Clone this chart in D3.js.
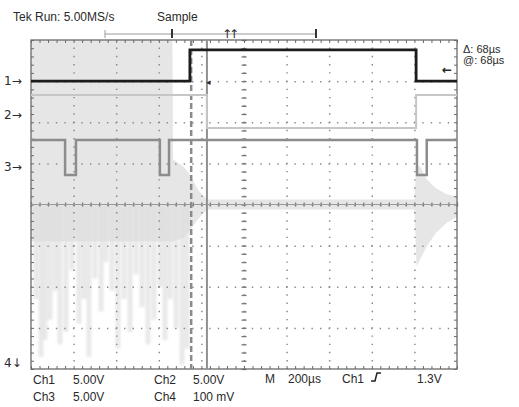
<!DOCTYPE html>
<html>
<head>
<meta charset="utf-8">
<script src="https://cdn.jsdelivr.net/npm/d3@7"></script>
<style>
  body { margin: 0; background: #fff; }
  svg text { font-family: "Liberation Sans", Arial, sans-serif; fill: #2a2a2a; }
  svg text.sym { font-family: "DejaVu Sans", sans-serif; }
</style>
</head>
<body>
<svg id="scope"></svg>
<script>
// time in µs (200µs/div, 10 div), level in divisions from centre
let majorX = d3.range(0, 2001, 200);
let minorX = d3.range(0, 2001, 40);
let majorY = d3.range(-4, 5, 1);
let minorY = d3.range(-4, 4.01, 0.2);

// step traces: [time, level] - level holds until the next point
let ch1 = [[0, 3.0], [746, 3.76], [1808, 3.0], [2000, 3.0]];
let ch2 = [[0, 2.66], [826, 1.86], [1808, 2.66], [2000, 2.66]];
let ch3 = [[0, 1.57], [160, 0.72], [211, 1.57], [605, 0.72], [648, 1.57], [1812, 0.72], [1858, 1.57], [2000, 1.57]];

// ch4 noise envelope: [time, top, bottom]
let ch4Env = [
  [0, 4, -0.9], [664, 4, -0.9], [667, 1.1, -0.9], [720, 0.9, -0.8], [750, 0.7, -0.6],
  [785, 0.35, -0.35], [826, 0.12, -0.12], [1800, 0.12, -0.12], [1810, 1.0, -1.5],
  [1830, 0.9, -1.3], [1860, 0.6, -1.0], [1900, 0.4, -0.7], [1950, 0.25, -0.45], [2000, 0.2, -0.3]
];
// ch4 downward spikes: [time, lowest level]
let ch4Spikes = [
  [23, -2.3], [47, -3.7], [66, -3.3], [89, -2.8], [113, -2.1], [136, -3.4], [164, -3.1],
  [192, -1.6], [225, -2.9], [249, -2.3], [272, -3.7], [300, -1.8], [329, -2.6], [352, -1.4],
  [380, -2.1], [408, -3.5], [437, -2.3], [465, -3.1], [493, -1.7], [521, -2.5], [549, -3.4],
  [577, -2.8], [606, -2.0], [629, -3.3], [653, -2.3], [681, -3.0], [709, -3.9], [732, -3.5]
];

let cursors = [752, 826];

let width = 519;
let height = 407;

let svg = d3.select("#scope").attr("width", width).attr("height", height);

svg.append("defs").append("filter").attr("id", "soft")
  .append("feGaussianBlur").attr("stdDeviation", 1.2);

let x = d3.scaleLinear().domain([0, 2000]).range([31, 457]);
let y = d3.scaleLinear().domain([-4, 4]).range([369, 40]);

let plotH = y(-4) - y(4);
let plotW = x(2000) - x(0);

// ch4 envelope + spikes (light grey, behind everything)
let area = d3.area()
  .x(d => x(d[0]))
  .y0(d => y(d[2]))
  .y1(d => y(d[1]));

let noise = svg.append("g");

noise.append("path")
  .datum(ch4Env)
  .attr("d", area)
  .attr("fill", "#e6e6e6");

noise.append("g")
  .attr("filter", "url(#soft)")
  .selectAll("line")
  .data(ch4Spikes)
  .enter()
  .append("line")
  .attr("x1", d => x(d[0]))
  .attr("x2", d => x(d[0]))
  .attr("y1", y(0))
  .attr("y2", d => y(d[1]))
  .attr("stroke", "#dedede")
  .attr("stroke-width", 5)
  .attr("opacity", 0.65);

// dotted graticule
let gridX = d3.axisBottom(x).tickValues(majorX.slice(1, -1)).tickSize(-plotH).tickFormat("");
let gridY = d3.axisLeft(y).tickValues(majorY.slice(1, -1)).tickSize(-plotW).tickFormat("");

let gx = svg.append("g").attr("transform", "translate(0," + y(-4) + ")").call(gridX);
gx.select(".domain").remove();
gx.selectAll("line")
  .attr("stroke", "#8a8a8a")
  .attr("stroke-width", 1.5)
  .attr("stroke-dasharray", "1.4," + (plotH / 40 - 1.4))
  .attr("stroke-dashoffset", 0.7);

let gy = svg.append("g").attr("transform", "translate(" + x(0) + ",0)").call(gridY);
gy.select(".domain").remove();
gy.selectAll("line")
  .attr("stroke", "#8a8a8a")
  .attr("stroke-width", 1.5)
  .attr("stroke-dasharray", "1.4," + (plotW / 50 - 1.4))
  .attr("stroke-dashoffset", 0.7);

// centre axes with minor ticks
let cx = d3.axisBottom(x).tickValues(minorX).tickSize(4).tickSizeOuter(0).tickFormat("");
let cxg = svg.append("g").attr("transform", "translate(0," + (y(0) - 2) + ")").call(cx);
cxg.select(".domain").remove();
cxg.selectAll("line").attr("stroke", "#777").attr("stroke-width", 1.3);

let cy = d3.axisLeft(y).tickValues(minorY).tickSize(5).tickSizeOuter(0).tickFormat("");
let cyg = svg.append("g").attr("transform", "translate(" + (x(1000) + 2.5) + ",0)").call(cy);
cyg.select(".domain").remove();
cyg.selectAll("line").attr("stroke", "#777").attr("stroke-width", 1.3);

// border with inward ticks
svg.append("rect")
  .attr("x", x(0)).attr("y", y(4))
  .attr("width", plotW).attr("height", plotH)
  .attr("fill", "none").attr("stroke", "#6a6a6a").attr("stroke-width", 1.3);

let borders = [
  { axis: d3.axisTop(x).tickValues(minorX), t: "translate(0," + (y(4) + 3) + ")" },
  { axis: d3.axisBottom(x).tickValues(minorX), t: "translate(0," + (y(-4) - 3) + ")" },
  { axis: d3.axisLeft(y).tickValues(minorY), t: "translate(" + (x(0) + 3) + ",0)" },
  { axis: d3.axisRight(y).tickValues(minorY), t: "translate(" + (x(2000) - 3) + ",0)" },
];
borders.forEach(b => {
  let g = svg.append("g").attr("transform", b.t).call(b.axis.tickSize(3).tickSizeOuter(0).tickFormat(""));
  g.select(".domain").remove();
  g.selectAll("line").attr("stroke", "#6a6a6a");
});

// ch4 trace
svg.append("line")
  .attr("x1", x(0)).attr("x2", x(2000))
  .attr("y1", y(0)).attr("y2", y(0))
  .attr("stroke", "#9a9a9a").attr("stroke-width", 1);

// cursors
svg.append("line")
  .attr("x1", x(cursors[0])).attr("x2", x(cursors[0]))
  .attr("y1", y(4)).attr("y2", y(-4))
  .attr("stroke", "#8a8a8a").attr("stroke-width", 2.5)
  .attr("stroke-dasharray", "6,3");
svg.append("line")
  .attr("x1", x(cursors[1])).attr("x2", x(cursors[1]))
  .attr("y1", y(4)).attr("y2", y(-4))
  .attr("stroke", "#909090").attr("stroke-width", 2);

let step = d3.line()
  .x(d => x(d[0]))
  .y(d => y(d[1]))
  .curve(d3.curveStepAfter);

let traces = [
  { data: ch2, color: "#c6c6c6", w: 2 },
  { data: ch3, color: "#8c8c8c", w: 2.5 },
  { data: ch1, color: "#1c1c1c", w: 2.8 },
];
traces.forEach(t => {
  svg.append("path")
    .datum(t.data)
    .attr("d", step)
    .attr("fill", "none")
    .attr("stroke", t.color)
    .attr("stroke-width", t.w);
});

// small markers
svg.append("text").attr("class", "sym").attr("x", x(826) - 1).attr("y", y(3.0) + 3.5)
  .attr("font-size", 9).text("◂");
svg.append("text").attr("class", "sym").attr("x", x(2000) - 15).attr("y", y(3.26) + 4)
  .attr("font-size", 12).attr("font-weight", "bold").text("←");

// header
svg.append("text").attr("x", 13).attr("y", 21).attr("font-size", 12).text("Tek Run: 5.00MS/s");
svg.append("text").attr("x", 157).attr("y", 21).attr("font-size", 12).text("Sample");

let rec = svg.append("g").attr("stroke", "#999").attr("stroke-width", 1);
rec.append("line").attr("x1", 105).attr("x2", 316).attr("y1", 34).attr("y2", 34);
rec.append("line").attr("x1", 105).attr("x2", 105).attr("y1", 30).attr("y2", 38);
rec.append("line").attr("x1", 172).attr("x2", 172).attr("y1", 29).attr("y2", 38)
  .attr("stroke", "#333").attr("stroke-width", 2);
rec.append("line").attr("x1", 316).attr("x2", 316).attr("y1", 29).attr("y2", 38)
  .attr("stroke", "#333").attr("stroke-width", 2);
svg.append("text").attr("class", "sym").attr("x", 229).attr("y", 38).attr("font-size", 12)
  .attr("text-anchor", "middle").attr("letter-spacing", -3).text("↑↑");

svg.append("text").attr("x", 463).attr("y", 53).attr("font-size", 11).text("Δ: 68µs");
svg.append("text").attr("x", 463).attr("y", 64).attr("font-size", 11).text("@: 68µs");

// channel ground markers
let markers = [
  { label: "1→", yv: 3.0 },
  { label: "2→", yv: 2.18 },
  { label: "3→", yv: 0.91 },
  { label: "4↓", yv: -3.85 },
];
svg.append("g")
  .selectAll("text")
  .data(markers)
  .enter()
  .append("text")
  .attr("class", "sym")
  .attr("x", 4)
  .attr("y", d => y(d.yv) + 4)
  .attr("font-size", 12)
  .text(d => d.label);

// footer readouts
let footer = [
  { t: "Ch1", x: 33, y: 384 }, { t: "5.00V", x: 73, y: 384 },
  { t: "Ch2", x: 154, y: 384 }, { t: "5.00V", x: 193, y: 384 },
  { t: "M", x: 265, y: 383 }, { t: "200µs", x: 288, y: 383 },
  { t: "Ch1", x: 342, y: 383 }, { t: "1.3V", x: 417, y: 383 },
  { t: "Ch3", x: 33, y: 401 }, { t: "5.00V", x: 73, y: 401 },
  { t: "Ch4", x: 154, y: 401 }, { t: "100 mV", x: 193, y: 401 },
];
svg.append("g")
  .selectAll("text")
  .data(footer)
  .enter()
  .append("text")
  .attr("x", d => d.x)
  .attr("y", d => d.y)
  .attr("font-size", 12)
  .text(d => d.t);

// rising-edge trigger symbol
svg.append("path")
  .attr("d", "M371,381 L375,381 L377,373 L381,373")
  .attr("fill", "none").attr("stroke", "#222").attr("stroke-width", 1.5);
</script>
</body>
</html>
